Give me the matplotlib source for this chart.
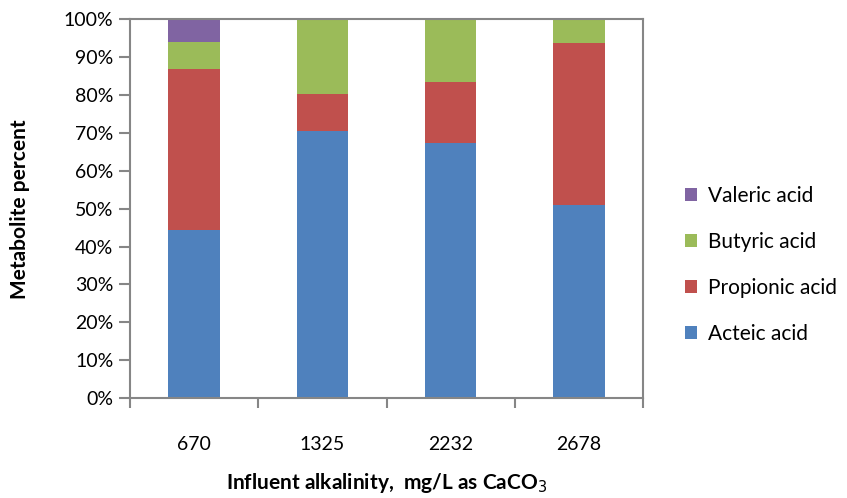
import numpy as np
import matplotlib.pyplot as plt

plt.rcParams['font.family'] = ['Lato', 'DejaVu Sans']

categories = ['670', '1325', '2232', '2678']
acetic = [44.4, 70.6, 67.3, 50.9]
propionic = [42.6, 9.6, 16.3, 42.8]
butyric = [7.1, 19.8, 16.4, 6.3]
valeric = [5.9, 0.0, 0.0, 0.0]

series = [('Acteic acid', acetic, '#4F81BD'),
          ('Propionic acid', propionic, '#C0504D'),
          ('Butyric acid', butyric, '#9BBB59'),
          ('Valeric acid', valeric, '#8064A2')]

fig = plt.figure(figsize=(8.47, 4.98), dpi=100)
ax = fig.add_axes([130/847, 1-398/498, (643-130)/847, (398-19.5)/498])

x = np.arange(len(categories))
bottom = np.zeros(len(categories))
handles = []
for name, vals, col in series:
    b = ax.bar(x, vals, 0.4, bottom=bottom, color=col, label=name)
    handles.append(b)
    bottom += np.array(vals)

ax.set_xlim(-0.5, len(categories)-0.5)
ax.set_ylim(0, 100)
ax.set_yticks(np.arange(0, 101, 10))
ax.set_yticklabels(['%d%%' % v for v in range(0, 101, 10)], fontsize=14)
ax.set_xticks(x)
ax.set_xticklabels(categories, fontsize=14)
ax.set_xticks(np.arange(-0.5, len(categories)), minor=True)
ax.tick_params(axis='x', which='major', length=0, pad=27)
ax.tick_params(axis='x', which='minor', length=7, width=1.5, color='#868686', direction='out')
ax.tick_params(axis='y', length=8, width=1.5, color='#868686', pad=4)

for s in ax.spines.values():
    s.set_color('#868686')
    s.set_linewidth(1.5)

ax.set_ylabel('Metabolite percent', fontsize=15, fontweight='bold', labelpad=24)
ax.set_xlabel('Influent alkalinity,  mg/L as CaCO$_3$', fontsize=15, fontweight='bold', labelpad=13)

leg = fig.legend(handles[::-1], [s[0] for s in series[::-1]], loc='center left',
                 bbox_to_anchor=(666/847, 1-265/498), frameon=False, fontsize=15,
                 handlelength=0.6, handleheight=0.6, handletextpad=0.5, labelspacing=1.25)

fig.savefig('out.png', dpi=100)
